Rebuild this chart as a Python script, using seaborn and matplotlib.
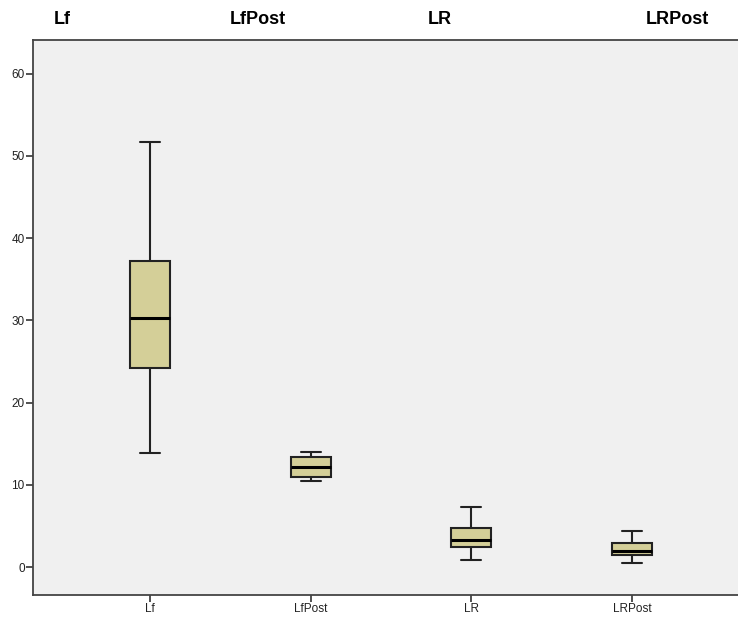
import pandas as pd
import matplotlib
matplotlib.use("Agg")
import matplotlib.pyplot as plt
import seaborn as sns

# five-number summaries (min, Q1, median, Q3, max)
groups = ["Lf", "LfPost", "LR", "LRPost"]
lf_vals = [13.9, 24.2, 30.3, 37.2, 51.7]
lfpost_vals = [10.5, 10.9, 12.2, 13.4, 14.0]
lr_vals = [0.85, 2.4, 3.3, 4.7, 7.3]
lrpost_vals = [0.5, 1.45, 1.95, 2.9, 4.4]
y_ticks = [0, 10, 20, 30, 40, 50, 60]

# long-form table
df = pd.DataFrame({
    "group": [g for g, v in zip(groups, [lf_vals, lfpost_vals, lr_vals, lrpost_vals]) for _ in v],
    "value": lf_vals + lfpost_vals + lr_vals + lrpost_vals,
})

sns.set_style("white")
plt.rcParams["font.family"] = ["Liberation Sans", "DejaVu Sans"]

fig = plt.figure(figsize=(7.38, 6.18), dpi=100)
ax = fig.add_axes([0.0447, 0.0372, 0.96, 0.898])
ax.set_facecolor("#F0F0F0")

sns.boxplot(
    data=df, x="group", y="value", order=groups, ax=ax,
    color="#D4CF98", width=0.25, whis=1.5, linewidth=1.5, linecolor="#222222",
    saturation=1, fliersize=0,
    medianprops={"color": "black", "linewidth": 2.2},
)

ax.set_ylim(-3.4, 64.1)
ax.set_xlim(-0.727, 3.68)
ax.set_yticks(y_ticks)
ax.set_xlabel("")
ax.set_ylabel("")
ax.tick_params(axis="both", direction="out", length=5, width=1.2, color="#333333",
               labelsize=8.5, labelcolor="#222222", pad=1, bottom=True, left=True)
for side in ["left", "bottom", "top"]:
    ax.spines[side].set_color("#444444")
    ax.spines[side].set_linewidth(1.3)
ax.spines["right"].set_visible(False)

# panel labels above the plot
for label, xpos in zip(groups, [0.085, 0.35, 0.596, 0.918]):
    fig.text(xpos, 0.969, label, ha="center", va="center", fontsize=13,
             fontweight="bold", color="black")

fig.savefig("out.png", dpi=100)
